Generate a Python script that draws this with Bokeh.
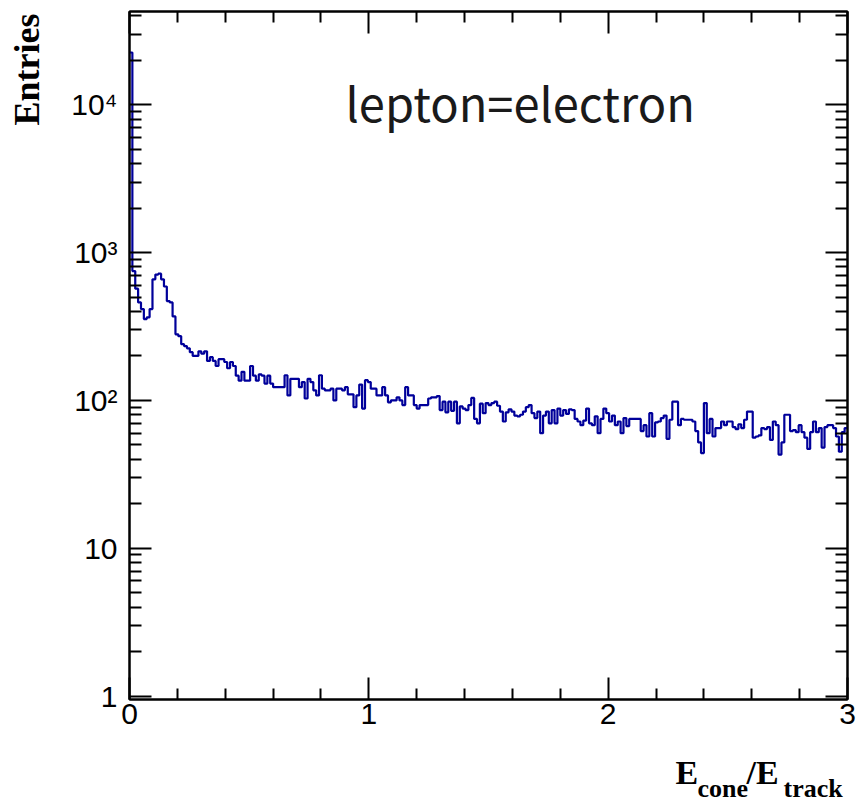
import numpy as np
from bokeh.plotting import figure
from bokeh.layouts import gridplot
from bokeh.models import Range1d, LinearAxis, LogAxis, FixedTicker, Label
from bokeh.core.properties import value
from bokeh.embed import file_html
from bokeh.resources import INLINE

# E_cone / E_track for the electron selection: 250 equal bins on [0, 3]
x_min, x_max, n_bins = 0.0, 3.0, 250
entries = [
    22600, 750, 570, 460, 415, 355, 365, 415, 660, 710,
    720, 660, 590, 470, 460, 370, 280, 272, 240, 233,
    225, 212, 200, 200, 215, 207, 215, 185, 196, 185,
    171, 190, 190, 182, 165, 182, 171, 147, 136, 156,
    136, 136, 171, 147, 136, 150, 147, 130, 147, 130,
    123, 123, 123, 123, 148, 108, 140, 140, 140, 123,
    133, 103, 140, 133, 117, 108, 148, 120, 117, 117,
    120, 100, 120, 120, 117, 123, 110, 110, 90, 108,
    128, 88, 137, 133, 120, 120, 108, 108, 123, 108,
    97, 100, 100, 105, 100, 93, 123, 108, 108, 93,
    88, 93, 93, 93, 103, 105, 105, 107, 86, 98,
    83, 98, 85, 98, 70, 91, 88, 86, 93, 104,
    75, 70, 95, 82, 96, 93, 96, 98, 92, 84,
    72, 83, 87, 84, 79, 78, 80, 84, 90, 93,
    82, 76, 84, 60, 79, 84, 70, 86, 70, 88,
    79, 86, 81, 87, 86, 75, 72, 68, 73, 88,
    70, 68, 78, 60, 75, 88, 82, 72, 79, 68,
    72, 60, 76, 67, 75, 75, 75, 75, 62, 68,
    57, 82, 57, 71, 72, 76, 79, 55, 74, 98,
    98, 68, 75, 74, 74, 74, 72, 62, 52, 44,
    96, 60, 75, 57, 65, 65, 72, 68, 72, 72,
    66, 64, 69, 65, 74, 84, 84, 56, 57, 58,
    65, 64, 66, 54, 72, 68, 43, 52, 80, 80,
    62, 63, 61, 68, 61, 56, 47, 61, 72, 61,
    65, 48, 66, 68, 68, 65, 57, 45, 61, 65,
]

y_min, y_max = 0.947, 42800

x_major = [0, 1, 2, 3]
x_minor = [0.2, 0.4, 0.6, 0.8, 1.2, 1.4, 1.6, 1.8, 2.2, 2.4, 2.6, 2.8]
x_tick_labels = ["0", "1", "2", "3"]

y_major = [1, 10, 100, 1000, 10000]
y_minor = [m * 10 ** d for d in range(5) for m in range(2, 10)]
y_tick_labels = ["1", "10", "10\u00b2", "10\u00b3", "10\u2074"]

label_text = "lepton=electron"
y_title = "Entries"
# x title pieces: (text, is_subscript)
x_title = [("E", False), ("cone", True), ("/E", False), ("track", True)]

HIST_COLOR = "#00009a"
TICK_FONT = "Liberation Sans"
TITLE_FONT = "Liberation Serif"

# page layout (pixels): left strip for the y title, plot frame at x 129..847, y 11..699
STRIP_W = 60
PLOT_W, PLOT_H = 856 - STRIP_W, 745
BORDER_L, BORDER_R, BORDER_T, BORDER_B = 129 - STRIP_W, 9, 11, 46
FOOT_H = 802 - PLOT_H

# histogram outline as a step path
edges = np.linspace(x_min, x_max, n_bins + 1)
counts = np.asarray(entries, dtype=float)
step_x = np.repeat(edges, 2)[1:-1]
step_y = np.repeat(counts, 2)

p = figure(
    width=PLOT_W, height=PLOT_H,
    output_backend="svg", toolbar_location=None,
    x_range=Range1d(x_min, x_max), y_range=Range1d(y_min, y_max),
    y_axis_type="log",
    min_border_left=BORDER_L, min_border_right=BORDER_R,
    min_border_top=BORDER_T, min_border_bottom=BORDER_B,
)
p.background_fill_color = "white"
p.border_fill_color = "white"
p.outline_line_color = "black"
p.outline_line_width = 2
p.xgrid.visible = False
p.ygrid.visible = False

p.line(step_x, step_y, line_color=HIST_COLOR, line_width=2.2)

x_ticker = FixedTicker(ticks=x_major, minor_ticks=x_minor)
y_ticker = FixedTicker(ticks=y_major, minor_ticks=y_minor)


def style_axis(ax, major_len, minor_len, show_labels):
    ax.axis_line_color = "black"
    ax.axis_line_width = 2
    ax.major_tick_line_color = "black"
    ax.major_tick_line_width = 2
    ax.minor_tick_line_color = "black"
    ax.minor_tick_line_width = 2
    ax.major_tick_in = major_len
    ax.major_tick_out = 0
    ax.minor_tick_in = minor_len
    ax.minor_tick_out = 0
    if not show_labels:
        ax.major_label_text_color = None
        ax.major_label_text_font_size = "8px"
        ax.major_label_standoff = 0


xb = p.xaxis[0]
xb.ticker = x_ticker
style_axis(xb, 22, 11, True)
xb.major_label_overrides = {v: t for v, t in zip(x_major, x_tick_labels)}
xb.major_label_text_font = TICK_FONT
xb.major_label_text_font_size = "30px"
xb.major_label_text_color = "black"
xb.major_label_standoff = 4

yl = p.yaxis[0]
yl.ticker = y_ticker
style_axis(yl, 22, 12, True)
yl.major_label_overrides = {v: t for v, t in zip(y_major, y_tick_labels)}
yl.major_label_text_font = TICK_FONT
yl.major_label_text_font_size = "30px"
yl.major_label_text_color = "black"
yl.major_label_standoff = 12

xt = LinearAxis(ticker=x_ticker)
style_axis(xt, 22, 11, False)
p.add_layout(xt, "above")

yr = LogAxis(ticker=y_ticker)
style_axis(yr, 22, 12, False)
p.add_layout(yr, "right")

p.add_layout(Label(x=x_min, y=y_max, text=label_text, x_offset=216, y_offset=-90,
                   text_align="left", text_baseline="middle",
                   text_font="Noto Sans CJK JP", text_font_size="47px",
                   text_color="#1a1a1a"))


def blank_strip(width, height, x_range, y_range, borders):
    s = figure(width=width, height=height, output_backend="svg", toolbar_location=None,
               x_range=x_range, y_range=y_range,
               min_border_left=borders[0], min_border_right=borders[1],
               min_border_top=borders[2], min_border_bottom=borders[3])
    s.axis.visible = False
    s.xgrid.visible = False
    s.ygrid.visible = False
    s.outline_line_color = None
    s.background_fill_color = "white"
    s.border_fill_color = "white"
    return s


# left strip: y title, coordinates are page pixels (y downwards)
side = blank_strip(STRIP_W, PLOT_H, Range1d(0, STRIP_W), Range1d(699, 11),
                   (0, 0, BORDER_T, BORDER_B))
side.text(x=[26], y=[13], text=[y_title], angle=np.pi / 2,
          text_align="right", text_baseline="middle",
          text_font=value(TITLE_FONT), text_font_style="bold",
          text_font_size="36px", text_color="black")

# bottom strip: x title, x in page pixels, y in pixels up from the page bottom
foot = blank_strip(PLOT_W, FOOT_H, Range1d(129, 847), Range1d(0, FOOT_H),
                   (BORDER_L, BORDER_R, 0, 0))
title_left = [675, 697, 746, 783]
for (txt, sub), x0 in zip(x_title, title_left):
    size = 26 if sub else 34
    y0 = 14 if sub else 30.5
    foot.text(x=[x0], y=[y0], text=[txt], text_align="left", text_baseline="middle",
              text_font=value(TITLE_FONT), text_font_style="bold",
              text_font_size=f"{size}px", text_color="black")

layout = gridplot([[side, p], [None, foot]], toolbar_location=None)
open("out.html", "w").write(file_html(layout, INLINE))
